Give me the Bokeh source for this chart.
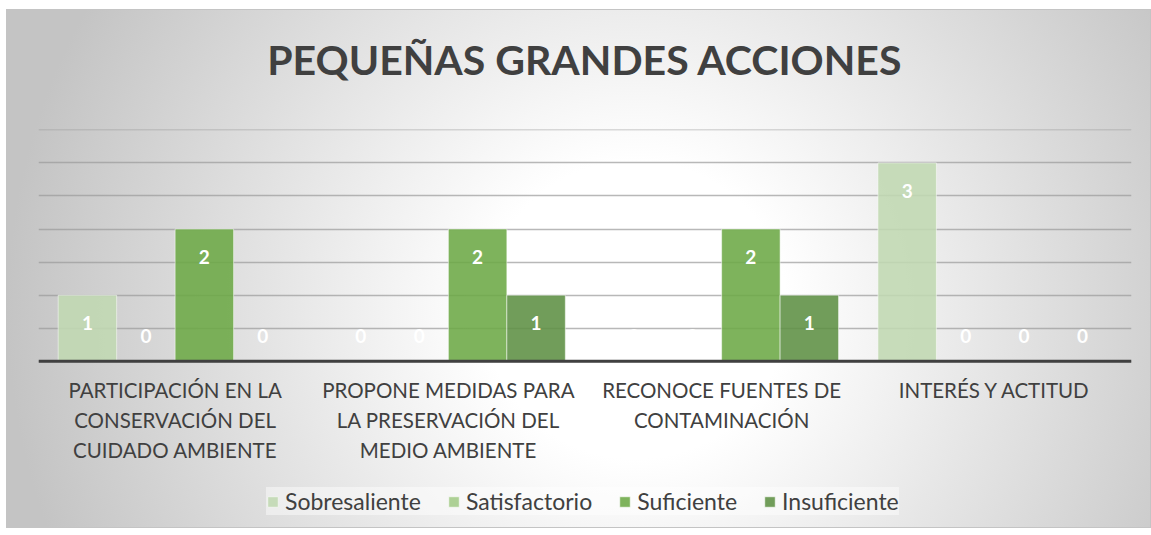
from bokeh.plotting import figure
from bokeh.models import ColumnDataSource, FactorRange, Range1d, Legend, LegendItem, SingleIntervalTicker, Span, Title
from bokeh.transform import dodge
from bokeh.core.properties import value
from bokeh.embed import file_html
from bokeh.resources import INLINE

# ---- data ----
categorias = [
    "PARTICIPACIÓN EN LA\nCONSERVACIÓN DEL\nCUIDADO AMBIENTE",
    "PROPONE MEDIDAS PARA\nLA PRESERVACIÓN DEL\nMEDIO AMBIENTE",
    "RECONOCE FUENTES DE\nCONTAMINACIÓN",
    "INTERÉS Y ACTITUD",
]
series = ["Sobresaliente", "Satisfactorio", "Suficiente", "Insuficiente"]
sobresaliente = [1, 0, 0, 3]
satisfactorio = [0, 0, 0, 0]
suficiente = [2, 2, 2, 0]
insuficiente = [0, 1, 1, 0]
titulo = "PEQUEÑAS GRANDES ACCIONES"

valores = [sobresaliente, satisfactorio, suficiente, insuficiente]
colores = ["#c0d8b2", "#a3cb88", "#6ca845", "#5d9043"]

FONT = "Lato"
Y_MAX = 3.5
PX_PER_UNIT = 67.14
FRAME_H = 404

p = figure(
    x_range=FactorRange(*categorias, range_padding=0),
    y_range=Range1d(Y_MAX + 0.005 - FRAME_H / PX_PER_UNIT, Y_MAX + 0.005),
    width=1143, height=517,
    output_backend="svg", toolbar_location=None,
    min_border_left=31, min_border_right=19, min_border_top=113, min_border_bottom=0,
)
p.margin = (10, 0, 0, 7)
p.styles = {
    "outline": "1px solid #c4c4c4",
    "background": "radial-gradient(ellipse 55% 120% at 55% 58%, #ffffff 0%, #ffffff 24%, #c4c4c4 100%)",
}
p.border_fill_color = None
p.background_fill_color = None
p.outline_line_color = None

p.title.text = titulo
p.title.align = "center"
p.title.text_font = FONT
p.title.text_font_style = "bold"
p.title.text_font_size = "41px"
p.title.text_color = "#404040"
p.title.standoff = 44

# blank spacer between the title and the plot area
p.add_layout(Title(text=" ", text_font_size="20px", standoff=0), "above")

p.xaxis.visible = False
p.yaxis.visible = False
p.ygrid.ticker = SingleIntervalTicker(interval=0.5)
p.ygrid.bounds = (0, Y_MAX)
p.ygrid.grid_line_color = "#9a9a9a"
p.ygrid.grid_line_alpha = 0.7
p.ygrid.grid_line_width = 1.5
p.xgrid.grid_line_color = None

bw = 0.214
offsets = [-1.5 * bw, -0.5 * bw, 0.5 * bw, 1.5 * bw]
items = []
for name, vals, col, off in zip(series, valores, colores, offsets):
    src = ColumnDataSource(dict(
        cat=categorias,
        val=vals,
        lbl=[str(v) for v in vals],
        yoff=[28 if v > 0 else -25 for v in vals],
    ))
    r = p.vbar(x=dodge("cat", off, range=p.x_range), top="val", width=bw, source=src,
               fill_color=col, fill_alpha=0.88, line_color="white", line_alpha=0.5, line_width=1)
    p.text(x=dodge("cat", off, range=p.x_range), y="val", text="lbl", source=src,
           y_offset="yoff", text_align="center", text_baseline="middle",
           text_color="white", text_font=value(FONT), text_font_style="bold",
           text_font_size="19px")
    items.append(LegendItem(label=name, renderers=[r]))

# base line (value axis zero)
p.add_layout(Span(location=0, dimension="width", line_color="#404040", line_width=3))

# category labels under the base line
cat_src = ColumnDataSource(dict(cat=categorias, base=[0] * len(categorias)))
p.text(x="cat", y="base", text="cat", source=cat_src, y_offset=17,
       text_align="center", text_baseline="top", text_color="#404040",
       text_font=value(FONT), text_font_size="20.5px", text_line_height=1.25)

legend = Legend(items=items, orientation="horizontal", location=(228, 12))
legend.label_text_font = FONT
legend.label_text_font_size = "23px"
legend.label_text_color = "#404040"
legend.glyph_width = 13
legend.glyph_height = 13
legend.label_standoff = 6
legend.spacing = 26
legend.padding = 8
legend.margin = 0
legend.background_fill_color = "white"
legend.background_fill_alpha = 0.45
legend.border_line_color = None
p.add_layout(legend, "center")

open("out.html", "w").write(file_html(p, INLINE))
